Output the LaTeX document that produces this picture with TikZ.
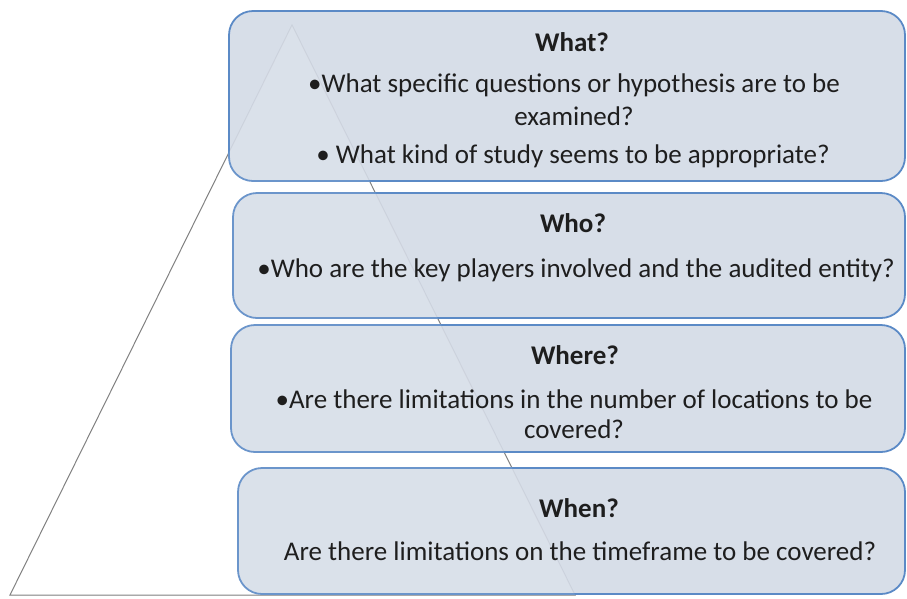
\documentclass[tikz,border=0pt]{standalone}
\usepackage{fontspec}
\setmainfont{Carlito}
\begin{document}
\begin{tikzpicture}[x=1pt,y=-1pt,
  panel/.style={draw=panelline, line width=1.8pt, fill=panelfill, fill opacity=0.9,
    rounded corners=24pt, inner sep=0pt},
  head/.style={anchor=base, font=\fontsize{27}{31}\selectfont\bfseries, text=txt},
  body/.style={anchor=base, font=\fontsize{27}{31}\selectfont, text=txt}]
\definecolor{panelfill}{HTML}{D3DAE6}
\definecolor{panelline}{HTML}{5B8AC6}
\definecolor{txt}{HTML}{1E1E1E}
\definecolor{edge}{HTML}{7A7A7A}
\useasboundingbox (0,0) rectangle (907,598);
% pyramid outline behind the panels
\coordinate (apex) at (292,25);
\coordinate (baseL) at (10,595);
\coordinate (baseR) at (575,595);
\draw[edge, line width=1pt, line join=miter] (apex) -- (baseL) -- (baseR) -- cycle;
% the four question panels
\node[panel, minimum width=676pt, minimum height=170pt] (what)  at (567,96) {};
\node[panel, minimum width=672pt, minimum height=125pt] (who)   at (569,255.5) {};
\node[panel, minimum width=674pt, minimum height=127pt] (where) at (568,388.5) {};
\node[panel, minimum width=667pt, minimum height=126pt] (when)  at (571.5,531) {};
% slightly lighter inside of the pyramid
\fill[white, opacity=0.1] (apex) -- (baseL) -- (baseR) -- cycle;
% panel texts
\node[head] (whatT) at (572,51) {What?};
\node[body] (what1) at (574,92) {•What specific questions or hypothesis are to be};
\node[body] (what2) at (574,125) {examined?};
\node[body] (what3) at (573,163) {• What kind of study seems to be appropriate?};
\node[head] (whoT) at (573,232) {Who?};
\node[body] (who1) at (576,277) {•Who are the key players involved and the audited entity?};
\node[head] (whereT) at (575,364) {Where?};
\node[body] (where1) at (574,408) {•Are there limitations in the number of locations to be};
\node[body] (where2) at (574,438) {covered?};
\node[head] (whenT) at (579,517) {When?};
\node[body] (when1) at (580,560) {Are there limitations on the timeframe to be covered?};
\end{tikzpicture}
\end{document}
